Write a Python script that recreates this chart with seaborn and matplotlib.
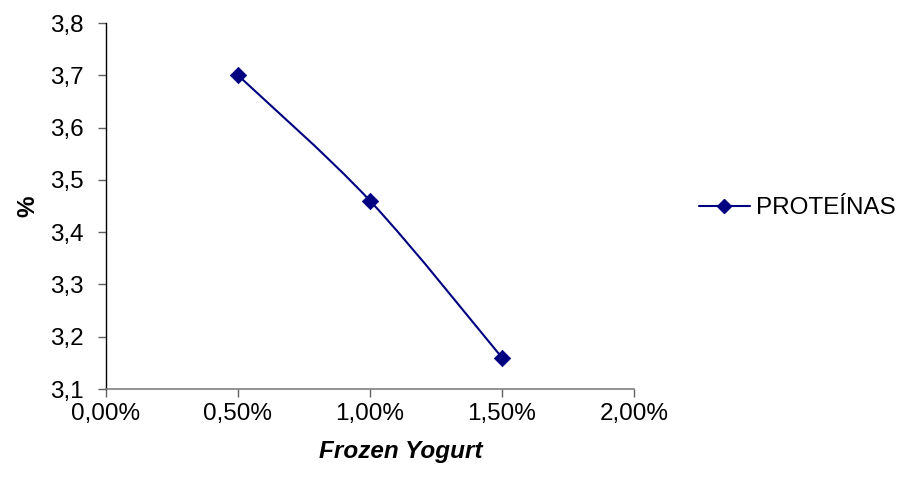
import numpy as np
import pandas as pd
import matplotlib
matplotlib.use("Agg")
import matplotlib.pyplot as plt
import seaborn as sns
from matplotlib.path import Path
from matplotlib.patches import PathPatch
from matplotlib.lines import Line2D
from matplotlib.ticker import FuncFormatter, MultipleLocator

# Data
concentration = [0.005, 0.010, 0.015]   # Frozen Yogurt (fraction)
proteinas = [3.70, 3.46, 3.16]          # %
series_name = "PROTEÍNAS"
x_title = "Frozen Yogurt"
y_title = "%"

sns.set_style("white")
plt.rcParams["font.family"] = ["Liberation Sans", "DejaVu Sans"]
plt.rcParams["text.color"] = "black"
plt.rcParams["axes.labelcolor"] = "black"

color = "#000080"
fs = 17.5
fig = plt.figure(figsize=(9.06, 4.84), dpi=100)
ax = fig.add_axes([106/906, 1-389/484, (634-106)/906, (389-23)/484])

df = pd.DataFrame({"x": concentration, "y": proteinas})

# Excel-style smoothed line (Catmull-Rom Bezier through the points)
xs, ys = np.array(concentration), np.array(proteinas)
verts = [(xs[0], ys[0])]
codes = [Path.MOVETO]
n = len(xs)
for i in range(n - 1):
    p0 = np.array([xs[max(i-1, 0)], ys[max(i-1, 0)]])
    p1 = np.array([xs[i], ys[i]])
    p2 = np.array([xs[i+1], ys[i+1]])
    p3 = np.array([xs[min(i+2, n-1)], ys[min(i+2, n-1)]])
    c1 = p1 + (p2 - p0) / 6
    c2 = p2 - (p3 - p1) / 6
    verts += [tuple(c1), tuple(c2), tuple(p2)]
    codes += [Path.CURVE4] * 3
ax.add_patch(PathPatch(Path(verts, codes), facecolor="none", edgecolor=color, lw=1.5, zorder=2))

sns.scatterplot(data=df, x="x", y="y", marker="D", s=70, color=color, edgecolor=color,
                linewidth=0.5, ax=ax, zorder=3, legend=False)

ax.set_xlim(0, 0.02)
ax.set_ylim(3.1, 3.8)
ax.xaxis.set_major_locator(MultipleLocator(0.005))
ax.yaxis.set_major_locator(MultipleLocator(0.1))
ax.xaxis.set_major_formatter(FuncFormatter(lambda v, p: f"{v*100:.2f}%".replace(".", ",")))
ax.yaxis.set_major_formatter(FuncFormatter(lambda v, p: f"{v:.1f}".replace(".", ",")))

for s in ["top", "right"]:
    ax.spines[s].set_visible(False)
ax.spines["left"].set_color("black")
ax.spines["bottom"].set_color("#808080")
ax.spines["left"].set_linewidth(1.0)
ax.spines["bottom"].set_linewidth(1.2)
ax.tick_params(axis="both", direction="out", length=6, width=1, labelsize=fs,
               color="#606060", labelcolor="black", bottom=True, left=True)
ax.tick_params(axis="y", pad=10)
ax.tick_params(axis="x", pad=4)

ax.set_xlabel(x_title, fontsize=fs, fontweight="bold", style="italic", labelpad=12)
ax.xaxis.set_label_coords((401-106)/528, -0.172)
ax.xaxis.label.set_verticalalignment("center")
ax.set_ylabel(y_title, fontsize=fs, fontweight="bold", labelpad=8)

handle = Line2D([0], [0], color=color, lw=1.5, marker="D", markersize=7.5)
fig.legend([handle], [series_name], loc="center left", bbox_to_anchor=(0.771, 1-208/484),
           frameon=False, fontsize=fs, handlelength=2.1, handletextpad=0.25, borderaxespad=0,
           borderpad=0)

fig.savefig("out.png", dpi=100, facecolor="white")
